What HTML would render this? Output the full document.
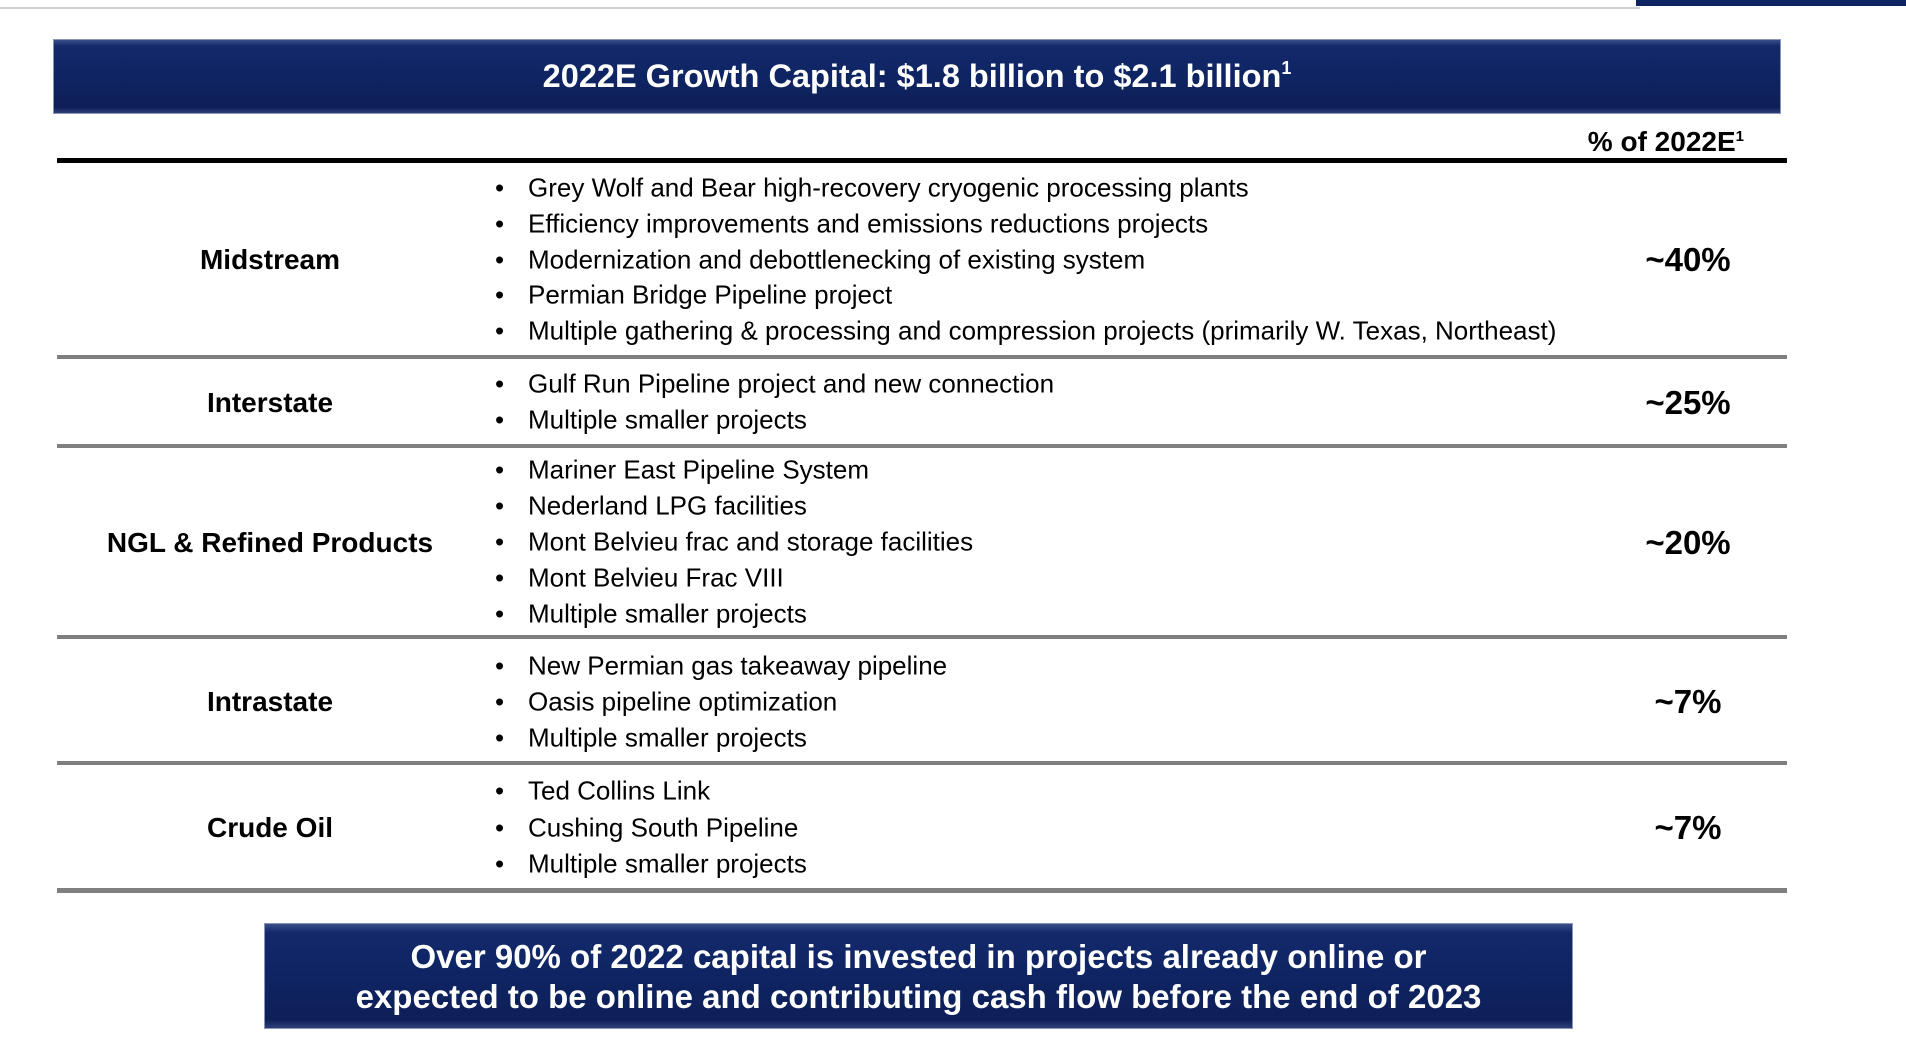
<!DOCTYPE html>
<html><head><meta charset="utf-8"><style>
body{margin:0;width:1906px;height:1042px;background:#fff;position:relative;overflow:hidden;font-family:"Liberation Sans",Arial,sans-serif;color:#000}
.abs{position:absolute}
.banner{background:linear-gradient(#3a4f8a 0,#13296a 8%,#0f2463 50%,#0d1f57 92%,#2c3f78 100%);border:1px solid #8a96b8;box-sizing:border-box;color:#fff;font-weight:bold;text-align:center}
.rule{position:absolute;left:57px;width:1730px;height:4px;background:#7f7f7f}
.cat{position:absolute;left:60px;width:420px;text-align:center;font-weight:bold;font-size:28px;transform:translateY(-50%)}
.pct{position:absolute;left:1600px;width:176px;text-align:center;font-weight:bold;font-size:33px;transform:translateY(-50%)}
.b{position:absolute;left:495px;font-size:26px;transform:translateY(-50%);white-space:nowrap;margin-top:-2px}
.b span{display:inline-block;width:33px}
</style></head><body>
<div class="abs" style="left:0;top:7px;width:1640px;height:2px;background:#d0d0d0"></div>
<div class="abs" style="left:1636px;top:0;width:270px;height:6px;background:#0f2463"></div>
<div class="abs banner" style="left:53px;top:39px;width:1728px;height:75px;font-size:32.5px;line-height:56px">2022E Growth Capital: $1.8 billion to $2.1 billion<sup style="font-size:18px;vertical-align:13px">1</sup></div>
<div class="abs" style="right:162px;top:126px;font-size:28px;font-weight:bold">% of 2022E<sup style="font-size:15px;vertical-align:10px">1</sup></div>
<div class="abs" style="left:57px;top:158px;width:1730px;height:5px;background:#000"></div>

<div class="rule" style="top:355px"></div>
<div class="rule" style="top:444px"></div>
<div class="rule" style="top:635px"></div>
<div class="rule" style="top:761px"></div>
<div class="rule" style="top:888px;height:5px"></div>

<div class="cat" style="top:260px">Midstream</div>
<div class="pct" style="top:260px">~40%</div>
<div class="b" style="top:190px"><span>•</span>Grey Wolf and Bear high-recovery cryogenic processing plants</div>
<div class="b" style="top:226px"><span>•</span>Efficiency improvements and emissions reductions projects</div>
<div class="b" style="top:262px"><span>•</span>Modernization and debottlenecking of existing system</div>
<div class="b" style="top:297px"><span>•</span>Permian Bridge Pipeline project</div>
<div class="b" style="top:333px"><span>•</span>Multiple gathering &amp; processing and compression projects (primarily W. Texas, Northeast)</div>

<div class="cat" style="top:403px">Interstate</div>
<div class="pct" style="top:403px">~25%</div>
<div class="b" style="top:386px"><span>•</span>Gulf Run Pipeline project and new connection</div>
<div class="b" style="top:422px"><span>•</span>Multiple smaller projects</div>

<div class="cat" style="top:543px">NGL &amp; Refined Products</div>
<div class="pct" style="top:543px">~20%</div>
<div class="b" style="top:472px"><span>•</span>Mariner East Pipeline System</div>
<div class="b" style="top:508px"><span>•</span>Nederland LPG facilities</div>
<div class="b" style="top:544px"><span>•</span>Mont Belvieu frac and storage facilities</div>
<div class="b" style="top:580px"><span>•</span>Mont Belvieu Frac VIII</div>
<div class="b" style="top:616px"><span>•</span>Multiple smaller projects</div>

<div class="cat" style="top:702px">Intrastate</div>
<div class="pct" style="top:702px">~7%</div>
<div class="b" style="top:668px"><span>•</span>New Permian gas takeaway pipeline</div>
<div class="b" style="top:704px"><span>•</span>Oasis pipeline optimization</div>
<div class="b" style="top:740px"><span>•</span>Multiple smaller projects</div>

<div class="cat" style="top:828px">Crude Oil</div>
<div class="pct" style="top:828px">~7%</div>
<div class="b" style="top:793px"><span>•</span>Ted Collins Link</div>
<div class="b" style="top:830px"><span>•</span>Cushing South Pipeline</div>
<div class="b" style="top:866px"><span>•</span>Multiple smaller projects</div>

<div class="abs banner" style="left:264px;top:923px;width:1309px;height:106px;font-size:33px;line-height:40px;padding-top:13px">Over 90% of 2022 capital is invested in projects already online or<br>expected to be online and contributing cash flow before the end of 2023</div>
</body></html>
